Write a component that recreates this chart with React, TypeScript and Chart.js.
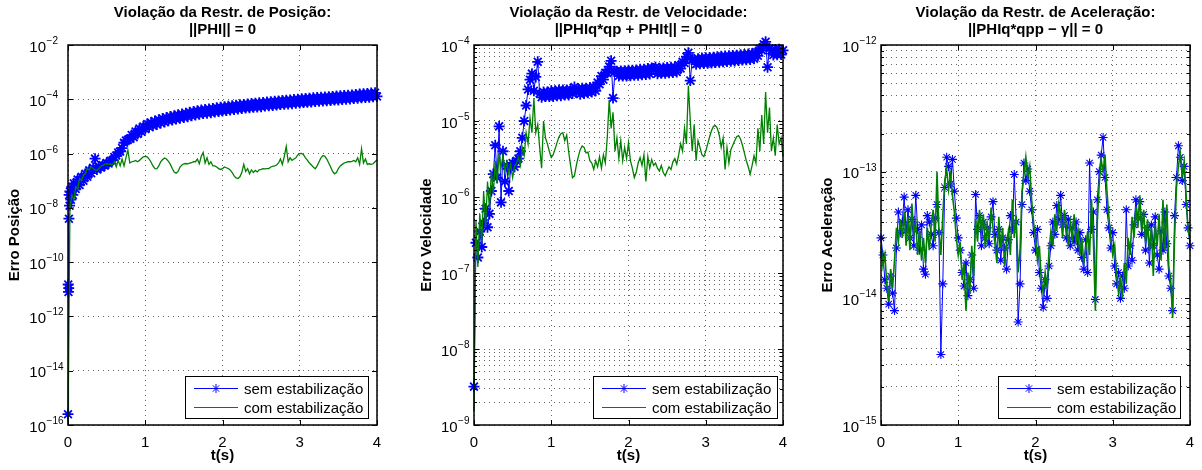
import React, { useEffect, useRef } from 'react';
import { Chart, registerables } from 'chart.js';

Chart.register(...registerables);

const FONT = '"Liberation Sans", Arial, Helvetica, sans-serif';

// ---------------- data ----------------
const tGrid = [
  0, 0.025, 0.05, 0.075, 0.1, 0.125, 0.15, 0.175, 0.2, 0.225, 0.25, 0.275, 0.3, 0.325, 0.35, 0.375, 0.4, 0.425, 0.45, 0.475,
  0.5, 0.525, 0.55, 0.575, 0.6, 0.625, 0.65, 0.675, 0.7, 0.725, 0.75, 0.775, 0.8, 0.825, 0.85, 0.875, 0.9, 0.925, 0.95, 0.975,
  1, 1.025, 1.05, 1.075, 1.1, 1.125, 1.15, 1.175, 1.2, 1.225, 1.25, 1.275, 1.3, 1.325, 1.35, 1.375, 1.4, 1.425, 1.45, 1.475,
  1.5, 1.525, 1.55, 1.575, 1.6, 1.625, 1.65, 1.675, 1.7, 1.725, 1.75, 1.775, 1.8, 1.825, 1.85, 1.875, 1.9, 1.925, 1.95, 1.975,
  2, 2.025, 2.05, 2.075, 2.1, 2.125, 2.15, 2.175, 2.2, 2.225, 2.25, 2.275, 2.3, 2.325, 2.35, 2.375, 2.4, 2.425, 2.45, 2.475,
  2.5, 2.525, 2.55, 2.575, 2.6, 2.625, 2.65, 2.675, 2.7, 2.725, 2.75, 2.775, 2.8, 2.825, 2.85, 2.875, 2.9, 2.925, 2.95, 2.975,
  3, 3.025, 3.05, 3.075, 3.1, 3.125, 3.15, 3.175, 3.2, 3.225, 3.25, 3.275, 3.3, 3.325, 3.35, 3.375, 3.4, 3.425, 3.45, 3.475,
  3.5, 3.525, 3.55, 3.575, 3.6, 3.625, 3.65, 3.675, 3.7, 3.725, 3.75, 3.775, 3.8, 3.825, 3.85, 3.875, 3.9, 3.925, 3.95, 3.975,
  4,
];

const posTimeSem = [
  0, 0.003, 0.006, 0.009, 0.012, 0.015, 0.02, 0.025, 0.0375,
  0.05, 0.0625, 0.075,
  0.1, 0.125, 0.15, 0.175, 0.2, 0.225, 0.25, 0.275, 0.3, 0.325, 0.35, 0.375, 0.4, 0.425, 0.45, 0.475,
  0.5, 0.525, 0.55, 0.575, 0.6, 0.625, 0.65, 0.675, 0.7, 0.725, 0.75, 0.775, 0.8,
  0.825, 0.85, 0.875, 0.9, 0.925, 0.95, 0.975,
  1, 1.025, 1.05, 1.075, 1.1, 1.125, 1.15, 1.175, 1.2, 1.225, 1.25, 1.275, 1.3, 1.325, 1.35, 1.375, 1.4, 1.425, 1.45, 1.475,
  1.5, 1.525, 1.55, 1.575, 1.6, 1.625, 1.65, 1.675, 1.7, 1.725, 1.75, 1.775, 1.8, 1.825, 1.85, 1.875, 1.9, 1.925, 1.95, 1.975,
  2, 2.025, 2.05, 2.075, 2.1, 2.125, 2.15, 2.175, 2.2, 2.225, 2.25, 2.275, 2.3, 2.325, 2.35, 2.375, 2.4, 2.425, 2.45, 2.475,
  2.5, 2.525, 2.55, 2.575, 2.6, 2.625, 2.65, 2.675, 2.7, 2.725, 2.75, 2.775, 2.8, 2.825, 2.85, 2.875, 2.9, 2.925, 2.95, 2.975,
  3, 3.025, 3.05, 3.075, 3.1, 3.125, 3.15, 3.175, 3.2, 3.225, 3.25, 3.275, 3.3, 3.325, 3.35, 3.375, 3.4, 3.425, 3.45, 3.475,
  3.5, 3.525, 3.55, 3.575, 3.6, 3.625, 3.65, 3.675, 3.7, 3.725, 3.75, 3.775, 3.8, 3.825, 3.85, 3.875, 3.9, 3.925, 3.95, 3.975,
  4,
];
const posErrSem = [
  2.5e-16, 1.5e-11, 8e-12, 1.1e-11, 4e-9, 3e-8, 1.2e-8, 4e-8, 2e-8,
  6e-8, 3e-8, 8e-8,
  5e-8, 1.1e-7, 7e-8, 1.4e-7, 1e-7, 1.8e-7, 1.4e-7, 2.4e-7, 1.9e-7, 3e-7, 6.5e-7, 2.6e-7, 3.3e-7, 3e-7, 3.8e-7, 3.6e-7,
  4.5e-7, 4.3e-7, 5.4e-7, 5.6e-7, 7.5e-7, 8.5e-7, 1.1e-6, 1.2e-6, 1.6e-6, 2.5e-6, 3e-6, 3.2e-6, 3.5e-6,
  4.8e-6, 4e-6, 6.5e-6, 5.3e-6, 8.3e-6, 6.4e-6, 1e-5,
  8e-6, 1.23e-5, 9.5e-6, 1.4e-5, 1.07e-5, 1.57e-5, 1.19e-5, 1.76e-5, 1.34e-5, 1.96e-5, 1.47e-5, 2.15e-5, 1.61e-5, 2.32e-5, 1.73e-5, 2.5e-5, 1.86e-5, 2.68e-5, 1.99e-5, 2.86e-5,
  2.12e-5, 3.07e-5, 2.29e-5, 3.3e-5, 2.46e-5, 3.54e-5, 2.63e-5, 3.78e-5, 2.8e-5, 4e-5, 2.97e-5, 4.2e-5, 3.05e-5, 4.37e-5, 3.22e-5, 4.6e-5, 3.39e-5, 4.84e-5, 3.56e-5, 5.07e-5,
  3.73e-5, 5.31e-5, 3.9e-5, 5.55e-5, 4.07e-5, 5.78e-5, 4.24e-5, 6.02e-5, 4.41e-5, 6.25e-5, 4.58e-5, 6.49e-5, 4.75e-5, 6.73e-5, 4.92e-5, 6.96e-5, 5.08e-5, 7.2e-5, 5.25e-5, 7.38e-5,
  5.34e-5, 7.6e-5, 5.6e-5, 7.9e-5, 5.76e-5, 8.1e-5, 5.93e-5, 8.4e-5, 6.1e-5, 8.7e-5, 6.36e-5, 8.97e-5, 6.53e-5, 9.2e-5, 6.7e-5, 9.44e-5, 6.86e-5, 9.8e-5, 7.2e-5, 1.01e-4,
  7.37e-5, 1.04e-4, 7.54e-5, 1.06e-4, 7.71e-5, 1.09e-4, 7.97e-5, 1.13e-4, 8.22e-5, 1.16e-4, 8.47e-5, 1.19e-4, 8.64e-5, 1.22e-4, 8.9e-5, 1.25e-4, 9.07e-5, 1.28e-4, 9.32e-5, 1.31e-4,
  9.5e-5, 1.34e-4, 9.75e-5, 1.37e-4, 1e-4, 1.41e-4, 1.03e-4, 1.45e-4, 1.06e-4, 1.5e-4, 1.09e-4, 1.55e-4, 1.13e-4, 1.59e-4, 1.16e-4, 1.64e-4, 1.19e-4, 1.69e-4, 1.23e-4, 1.73e-4,
  1.27e-4,
];
const posErrCom = [
  1e-16, 1e-8, 3e-8, 2e-8, 6e-8, 5e-8, 1.2e-7, 1e-7, 1.6e-7, 1.8e-7,
  2.8e-7, 2.5e-7, 3.2e-7, 2.8e-7, 2.5e-7, 2.4e-7, 2.8e-7, 3.3e-7, 3.7e-7, 4e-7,
  4.2e-7, 4e-7, 4.2e-7, 3.8e-7, 5e-7, 3.2e-7, 5.6e-7, 3.5e-7, 6.3e-7, 3.5e-7,
  7e-7, 1.35e-6, 4.5e-7, 5e-7, 5.2e-7, 5.6e-7, 5e-7, 5.6e-7, 6.6e-7, 7.6e-7,
  7.9e-7, 7.6e-7, 6.3e-7, 4.8e-7, 3.5e-7, 2.8e-7, 2.75e-7, 3.5e-7, 5e-7, 6e-7,
  6.8e-7, 6.3e-7, 5.2e-7, 4e-7, 2.8e-7, 2.1e-7, 1.9e-7, 2.2e-7, 3.2e-7, 3.8e-7,
  4.2e-7, 4.3e-7, 4.2e-7, 4.4e-7, 4.6e-7, 5e-7, 5e-7, 6.3e-7, 4.2e-7, 7.9e-7,
  1.1e-6, 4.5e-7, 7e-7, 4e-7, 5e-7, 3.5e-7, 3.5e-7, 3.2e-7, 2.8e-7, 2.6e-7,
  2.8e-7, 3.2e-7, 3e-7, 2.8e-7, 2.5e-7, 2e-7, 1.5e-7, 1.26e-7, 1.2e-7, 1.4e-7,
  2e-7, 4e-7, 2.2e-7, 2.8e-7, 1.8e-7, 2.5e-7, 2e-7, 2.4e-7, 2.1e-7, 2.5e-7,
  2.6e-7, 2.8e-7, 2.75e-7, 2.8e-7, 2.8e-7, 3.2e-7, 3.4e-7, 3.5e-7, 3.8e-7, 4.5e-7,
  6.3e-7, 4e-7, 7.9e-7, 1.8e-6, 5e-7, 7e-7, 5.6e-7, 6.3e-7, 7e-7, 8.9e-7,
  1e-6, 1.02e-6, 8.9e-7, 7e-7, 5.6e-7, 4.5e-7, 3.8e-7, 3.2e-7, 2.75e-7, 3.5e-7,
  5e-7, 7e-7, 8.5e-7, 7.9e-7, 6.3e-7, 4.5e-7, 3.2e-7, 2.2e-7, 1.8e-7, 2e-7,
  2.8e-7, 3.5e-7, 4e-7, 4.5e-7, 4.7e-7, 5e-7, 5e-7, 5.2e-7, 5.6e-7, 5e-7,
  7e-7, 4e-7, 1.5e-6, 4.5e-7, 6.3e-7, 4e-7, 4.2e-7, 4e-7, 4.2e-7, 5e-7,
  5.9e-7,
];

const velErrSem = [
  3.2e-9, 2.5e-7, 1.6e-7, 3.5e-7, 2.2e-7, 4.5e-7, 7e-7, 4e-7, 6e-7, 1.2e-6,
  2e-6, 4.8e-6, 1.8e-6, 8.5e-6, 8.5e-7, 4e-6, 1.6e-6, 2.6e-6, 1.2e-6, 2.4e-6,
  2.8e-6, 2.5e-6, 3e-6, 3.2e-6, 4e-6, 6e-6, 1e-5, 1.6e-5, 2.6e-5, 3.5e-5,
  4.2e-5, 2.5e-5, 3.8e-5, 6e-5, 2.3e-5, 2.05e-5, 2.4e-5, 2.1e-5, 2.4e-5, 2.1e-5,
  2.5e-5, 2.1e-5, 2.5e-5, 2.15e-5, 2.55e-5, 2.15e-5, 2.55e-5, 2.2e-5, 2.55e-5, 2.2e-5,
  2.6e-5, 2.3e-5, 2.8e-5, 2.4e-5, 2.65e-5, 2.25e-5, 2.7e-5, 2.3e-5, 2.7e-5, 2.35e-5,
  2.75e-5, 2.4e-5, 2.8e-5, 2.5e-5, 3.2e-5, 3.05e-5, 3.9e-5, 3.5e-5, 4.3e-5, 4.3e-5,
  5.2e-5, 6.2e-5, 2e-5, 4.5e-5, 4.5e-5, 3.9e-5, 4.55e-5, 3.9e-5, 4.6e-5, 3.9e-5,
  4.65e-5, 3.95e-5, 4.65e-5, 4e-5, 4.7e-5, 4e-5, 4.8e-5, 4.05e-5, 4.8e-5, 4.1e-5,
  4.9e-5, 4.15e-5, 5e-5, 4.9e-5, 5.1e-5, 4.2e-5, 4.95e-5, 4.25e-5, 5e-5, 4.25e-5,
  5.05e-5, 4.3e-5, 5.1e-5, 4.35e-5, 5.15e-5, 4.4e-5, 5.4e-5, 4.9e-5, 6e-5, 5.8e-5,
  7e-5, 7.9e-5, 3.4e-5, 6.5e-5, 6.5e-5, 5.6e-5, 6.6e-5, 5.65e-5, 6.75e-5, 5.7e-5,
  6.8e-5, 5.75e-5, 6.85e-5, 5.8e-5, 6.9e-5, 5.9e-5, 7e-5, 5.95e-5, 7.1e-5, 6e-5,
  7.15e-5, 6.05e-5, 7.2e-5, 6.1e-5, 7.3e-5, 6.15e-5, 7.35e-5, 6.25e-5, 7.45e-5, 6.35e-5,
  7.5e-5, 6.4e-5, 7.6e-5, 6.45e-5, 7.7e-5, 6.6e-5, 8.1e-5, 7.2e-5, 9e-5, 8.5e-5,
  1.02e-4, 1.1e-4, 5.1e-5, 9e-5, 8.5e-5, 7.4e-5, 8.7e-5, 7.45e-5, 8.8e-5, 7.5e-5,
  8.5e-5,
];
const velErrCom = [
  1.5e-9, 5e-7, 1.2e-7, 6e-7, 2.5e-7, 1.2e-6, 4e-7, 1.6e-6, 7e-7, 2.2e-6,
  1.1e-6, 3e-6, 1.5e-6, 3.8e-6, 2.4e-6, 3.6e-6, 2.2e-6, 2.9e-6, 2e-6, 2.7e-6,
  1.8e-6, 2.5e-6, 2.8e-6, 3.3e-6, 2.6e-6, 4.5e-6, 3.5e-6, 7e-6, 5e-6, 1.1e-5,
  7e-6, 2e-5, 7e-6, 9e-6, 4.5e-6, 2.4e-6, 1e-5, 6e-6, 5e-6, 4e-6,
  3.3e-6, 3.6e-6, 4.3e-6, 5.2e-6, 6.2e-6, 6.8e-6, 7e-6, 5.5e-6, 6.5e-6, 4e-6,
  2.6e-6, 1.8e-6, 1.9e-6, 2.6e-6, 3.4e-6, 4.2e-6, 4.7e-6, 4.5e-6, 3.8e-6, 3.9e-6,
  3e-6, 2.8e-6, 2.3e-6, 3e-6, 2.5e-6, 3.4e-6, 2.4e-6, 3.6e-6, 2.8e-6, 6e-6,
  1.9e-5, 8e-6, 1.3e-5, 4e-6, 6e-6, 3.2e-6, 5.5e-6, 3e-6, 4.5e-6, 3.2e-6,
  5.2e-6, 3e-6, 2.4e-6, 1.8e-6, 2.1e-6, 2.8e-6, 3.3e-6, 2.6e-6, 3.6e-6, 1.6e-6,
  3.4e-6, 2.4e-6, 3.1e-6, 2.6e-6, 2.8e-6, 2.4e-6, 2.2e-6, 2.6e-6, 2.1e-6, 1.9e-6,
  2.2e-6, 2.5e-6, 2.3e-6, 2.9e-6, 3.2e-6, 2.7e-6, 3.6e-6, 5e-6, 4e-6, 8e-6,
  5e-6, 2.9e-5, 1e-5, 4e-6, 9e-6, 3e-6, 5.5e-6, 4.5e-6, 3.6e-6, 3.4e-6,
  4e-6, 5e-6, 6.2e-6, 7.5e-6, 8.5e-6, 8.7e-6, 8e-6, 6.5e-6, 4.5e-6, 6e-6,
  2.3e-6, 4.5e-6, 2.8e-6, 4.2e-6, 4.8e-6, 5.5e-6, 6.2e-6, 6.4e-6, 5.8e-6, 4.8e-6,
  3.8e-6, 3e-6, 2.5e-6, 2e-6, 2.6e-6, 3.5e-6, 2.8e-6, 8e-6, 4e-6, 1.2e-5,
  5e-6, 2.4e-5, 7e-6, 1.5e-5, 4e-6, 6e-6, 3.5e-6, 9e-6, 5e-6, 6e-6,
  3.4e-6,
];

const accErrSem = [
  3e-14, 2.2e-14, 1.4e-14, 1.2e-14, 9e-15, 1.5e-14, 1.1e-14, 8e-15, 2.5e-14, 4.8e-14,
  3.3e-14, 4e-14, 6.3e-14, 3.4e-14, 5e-14, 3e-14, 4.2e-14, 2.6e-14, 6.5e-14, 3.5e-14,
  2.4e-14, 3.8e-14, 1.7e-14, 1.55e-14, 4.5e-14, 4e-14, 3.2e-14, 2.6e-14, 4.3e-14, 5.5e-14,
  3.3e-14, 3.6e-15, 1.3e-14, 7.5e-14, 1.3e-13, 1.1e-13, 8e-14, 1.25e-13, 7e-14, 4.3e-14,
  3e-14, 2.4e-14, 1.6e-14, 1.25e-14, 1.9e-14, 1.05e-14, 1.4e-14, 2.2e-14, 1.2e-14, 6.6e-14,
  3.5e-14, 4.5e-14, 2.6e-14, 4e-14, 3e-14, 3.6e-14, 2.7e-14, 4.4e-14, 5.8e-14, 3.2e-14,
  2.4e-14, 3.5e-14, 2e-14, 3e-14, 2.5e-14, 1.7e-14, 2.9e-14, 4.5e-14, 3.5e-14, 9.5e-14,
  4e-14, 6.5e-15, 1.3e-14, 5.5e-14, 1.17e-13, 8.5e-14, 1.05e-13, 7e-14, 5e-14, 3.3e-14,
  2.4e-14, 3.5e-14, 1.6e-14, 1.2e-14, 8.5e-15, 1.4e-14, 1e-14, 1.8e-14, 2.6e-14, 4e-14,
  3.2e-14, 5.4e-14, 4.2e-14, 6.5e-14, 3.8e-14, 4.5e-14, 3e-14, 4.2e-14, 2.6e-14, 3.6e-14,
  2.8e-14, 4e-14, 2.4e-14, 3.3e-14, 2.1e-14, 1.7e-14, 2.9e-14, 1.6e-14, 1.17e-13, 3.5e-14,
  4.8e-14, 9.8e-15, 6e-14, 1e-13, 1.35e-13, 1.86e-13, 9e-14, 5e-14, 3.6e-14, 2.5e-14,
  3.3e-14, 1.8e-14, 1.3e-14, 1.6e-14, 1e-14, 1.5e-14, 1.2e-14, 5e-14, 1.8e-14, 2.6e-14,
  2e-14, 3.8e-14, 6e-14, 4.3e-14, 5.8e-14, 3.2e-14, 4.6e-14, 2.4e-14, 3.6e-14, 1.9e-14,
  3.8e-14, 2.6e-14, 4.4e-14, 2.2e-14, 1.7e-14, 3.4e-14, 2.4e-14, 4.8e-14, 2.7e-14, 1.5e-14,
  1.2e-14, 8e-15, 4.5e-14, 9e-14, 1.6e-13, 1.3e-13, 8.5e-14, 1.1e-13, 5.5e-14, 3.6e-14,
  2.6e-14,
];
const accErrCom = [
  2.6e-14, 1.8e-14, 2.2e-14, 1.3e-14, 9.5e-15, 1.7e-14, 1.2e-14, 2e-14, 3.6e-14, 2.8e-14,
  4.2e-14, 3e-14, 4.8e-14, 2.6e-14, 4.4e-14, 2.4e-14, 5.6e-14, 3.2e-14, 4e-14, 2.2e-14,
  3.4e-14, 2e-14, 3e-14, 1.9e-14, 3.6e-14, 2.4e-14, 3.8e-14, 5e-14, 2.8e-14, 1e-13,
  3.5e-14, 2.2e-14, 4.5e-14, 8.5e-14, 1.05e-13, 7.2e-14, 9.5e-14, 6.5e-14, 4.8e-14, 3e-14,
  2.2e-14, 2.8e-14, 1.4e-14, 1.9e-14, 8e-15, 1.6e-14, 1.1e-14, 2.6e-14, 1.5e-14, 4.2e-14,
  2.8e-14, 5e-14, 3.4e-14, 4.6e-14, 2.5e-14, 3.8e-14, 2.9e-14, 5.2e-14, 3.6e-14, 2.7e-14,
  1.9e-14, 4.4e-14, 2.5e-14, 3.6e-14, 1.8e-14, 2.8e-14, 3.4e-14, 2.2e-14, 6e-14, 3e-14,
  4.5e-14, 1.6e-14, 2.4e-14, 7e-14, 9.5e-14, 1.3e-13, 9e-14, 1.1e-13, 6e-14, 4e-14,
  3e-14, 2e-14, 2.6e-14, 1.4e-14, 1.1e-14, 1.6e-14, 1.2e-14, 2.4e-14, 3.4e-14, 2.6e-14,
  4.6e-14, 3.4e-14, 5.6e-14, 4.8e-14, 3e-14, 5e-14, 3.6e-14, 2.6e-14, 4e-14, 3e-14,
  4.6e-14, 2.8e-14, 3.5e-14, 2.2e-14, 3e-14, 1.9e-14, 2.4e-14, 3.4e-14, 2.2e-14, 6e-14,
  2.8e-14, 8e-15, 4e-14, 8e-14, 1.25e-13, 1e-13, 1.35e-13, 7e-14, 4.4e-14, 3e-14,
  2.2e-14, 2.6e-14, 1.5e-14, 1.1e-14, 1.4e-14, 1e-14, 1.9e-14, 1.3e-14, 3e-14, 2.2e-14,
  4.4e-14, 3e-14, 5.2e-14, 3.6e-14, 6.5e-14, 3.4e-14, 5e-14, 2.8e-14, 4.2e-14, 2.4e-14,
  3.6e-14, 1.5e-14, 3.8e-14, 2.6e-14, 4.6e-14, 2e-14, 6e-14, 2.4e-14, 5.5e-14, 1.8e-14,
  1.4e-14, 7e-15, 3e-14, 7.5e-14, 1.1e-13, 1.4e-13, 9.5e-14, 1.2e-13, 6.5e-14, 3.4e-14,
  3e-14,
];

// ---------------- axes / labels ----------------
const xTickValues = [0, 1, 2, 3, 4];
const xTickLabels = ['0', '1', '2', '3', '4'];
const xTitle = 't(s)';
const posDecades = [-16, -14, -12, -10, -8, -6, -4, -2];
const velDecades = [-9, -8, -7, -6, -5, -4];
const accDecades = [-15, -14, -13, -12];
const minorMultipliers = [2, 3, 4, 5, 6, 7, 8, 9];
const seriesLabels = ['sem estabilização', 'com estabilização'];
const seriesColors = ['#0000ff', '#008000'];
const posTitle = ['Violação da Restr. de Posição:', '||PHI|| = 0'];
const velTitle = ['Violação da Restr. de Velocidade:', '||PHIq*qp + PHIt|| = 0'];
const accTitle = ['Violação da Restr. de Aceleração:', '||PHIq*qpp \u2212 \u03b3|| = 0'];
const yTitles = ['Erro Posição', 'Erro Velocidade', 'Erro Aceleração'];

function minorTicks(decades: number[]) {
  const out: number[] = [];
  for (let i = 0; i < decades.length - 1; i++) {
    for (const m of minorMultipliers) out.push(m * Math.pow(10, decades[i]));
  }
  return out;
}

type PanelSpec = {
  left: number;
  width: number;
  pad: { left: number; right: number; top: number; bottom: number };
  legendBox: { x: number; y: number; w: number; h: number };
  title: string[];
  yTitle: string;
  decades: number[];
  minor: number[];
  semT: number[];
  semV: number[];
  comT: number[];
  comV: number[];
  markerR: number;
  markerW: number;
  comW: number;
};

const panels: PanelSpec[] = [
  {
    left: 0, width: 400,
    pad: { left: 68, right: 23, top: 45, bottom: 45 },
    legendBox: { x: 185, y: 376, w: 183, h: 42 },
    title: posTitle, yTitle: yTitles[0], decades: posDecades, minor: [],
    semT: posTimeSem, semV: posErrSem, comT: tGrid, comV: posErrCom,
    markerR: 5.5, markerW: 1.8, comW: 1.3,
  },
  {
    left: 400, width: 400,
    pad: { left: 74, right: 17, top: 45, bottom: 45 },
    legendBox: { x: 193, y: 376, w: 184, h: 42 },
    title: velTitle, yTitle: yTitles[1], decades: velDecades, minor: minorTicks(velDecades),
    semT: tGrid, semV: velErrSem, comT: tGrid, comV: velErrCom,
    markerR: 5.5, markerW: 1.8, comW: 1.3,
  },
  {
    left: 800, width: 402,
    pad: { left: 81, right: 12, top: 45, bottom: 45 },
    legendBox: { x: 198, y: 376, w: 182, h: 42 },
    title: accTitle, yTitle: yTitles[2], decades: accDecades, minor: minorTicks(accDecades),
    semT: tGrid, semV: accErrSem, comT: tGrid, comV: accErrCom,
    markerR: 4.5, markerW: 1.1, comW: 1.6,
  },
];

function drawAsterisk(ctx: CanvasRenderingContext2D, x: number, y: number, r: number) {
  const d = r * Math.SQRT1_2;
  ctx.moveTo(x - r, y); ctx.lineTo(x + r, y);
  ctx.moveTo(x, y - r); ctx.lineTo(x, y + r);
  ctx.moveTo(x - d, y - d); ctx.lineTo(x + d, y + d);
  ctx.moveTo(x - d, y + d); ctx.lineTo(x + d, y - d);
}

function makePlugin(p: PanelSpec) {
  return {
    id: 'matlabAxes',
    afterDatasetsDraw(chart: any) {
      const { ctx, chartArea: a, scales } = chart;
      const xs = scales.x, ys = scales.y;
      ctx.save();
      ctx.strokeStyle = '#000';
      ctx.lineWidth = 1;
      ctx.setLineDash([]);
      ctx.beginPath();
      for (const v of xTickValues) {
        const x = Math.round(xs.getPixelForValue(v)) + 0.5;
        ctx.moveTo(x, a.bottom); ctx.lineTo(x, a.bottom - 5);
        ctx.moveTo(x, a.top); ctx.lineTo(x, a.top + 5);
      }
      for (const d of p.decades) {
        const y = Math.round(ys.getPixelForValue(Math.pow(10, d))) + 0.5;
        ctx.moveTo(a.left, y); ctx.lineTo(a.left + 5, y);
        ctx.moveTo(a.right, y); ctx.lineTo(a.right - 5, y);
      }
      for (const v of p.minor) {
        const y = Math.round(ys.getPixelForValue(v)) + 0.5;
        ctx.moveTo(a.left, y); ctx.lineTo(a.left + 3, y);
        ctx.moveTo(a.right, y); ctx.lineTo(a.right - 3, y);
      }
      ctx.stroke();
      ctx.lineWidth = 1.5;
      ctx.strokeRect(a.left, a.top, a.right - a.left, a.bottom - a.top);
      ctx.restore();
    },
    afterDraw(chart: any) {
      const { ctx, chartArea: a, scales } = chart;
      const xs = scales.x, ys = scales.y;
      ctx.save();
      ctx.fillStyle = '#000';
      ctx.textBaseline = 'alphabetic';
      const cx = (a.left + a.right) / 2;

      // title
      ctx.textAlign = 'center';
      ctx.font = `bold 15px ${FONT}`;
      ctx.fillText(p.title[0], cx, 17);
      ctx.fillText(p.title[1], cx, 34);

      // x tick labels
      ctx.font = `15px ${FONT}`;
      xTickValues.forEach((v, i) => ctx.fillText(xTickLabels[i], xs.getPixelForValue(v), 447));

      // x title
      ctx.font = `bold 15px ${FONT}`;
      ctx.fillText(xTitle, cx, 460);

      // y tick labels 10^n
      ctx.textAlign = 'left';
      ctx.font = `15px ${FONT}`;
      const baseW = ctx.measureText('10').width;
      ctx.font = `10px ${FONT}`;
      const expStrs = p.decades.map((d) => (d < 0 ? '\u2212' : '') + Math.abs(d));
      const maxExpW = Math.max(...expStrs.map((s) => ctx.measureText(s).width));
      const x0 = a.left - 5 - baseW - maxExpW;
      p.decades.forEach((d, i) => {
        const y = ys.getPixelForValue(Math.pow(10, d));
        ctx.font = `15px ${FONT}`;
        ctx.fillText('10', x0, y + 6.5);
        ctx.font = `10px ${FONT}`;
        ctx.fillText(expStrs[i], x0 + baseW + 0.5, y - 1);
      });

      // y title
      ctx.save();
      ctx.translate(x0 - 10, (a.top + a.bottom) / 2);
      ctx.rotate(-Math.PI / 2);
      ctx.textAlign = 'center';
      ctx.font = `bold 15px ${FONT}`;
      ctx.fillText(p.yTitle, 0, 0);
      ctx.restore();

      // legend
      const b = p.legendBox;
      ctx.fillStyle = '#fff';
      ctx.fillRect(b.x, b.y, b.w, b.h);
      ctx.strokeStyle = '#000';
      ctx.lineWidth = 1;
      ctx.strokeRect(b.x + 0.5, b.y + 0.5, b.w, b.h);
      const rowsY = [b.y + 12, b.y + 31];
      for (let i = 0; i < 2; i++) {
        const ly = Math.round(rowsY[i]) + 0.5;
        ctx.strokeStyle = seriesColors[i];
        ctx.lineWidth = 1;
        ctx.beginPath();
        ctx.moveTo(b.x + 9, ly);
        ctx.lineTo(b.x + 53, ly);
        if (i === 0) drawAsterisk(ctx, b.x + 31, ly, 4.5);
        ctx.stroke();
        ctx.fillStyle = '#000';
        ctx.font = `15px ${FONT}`;
        ctx.textAlign = 'left';
        ctx.fillText(seriesLabels[i], b.x + 59, rowsY[i] + 5.5);
      }
      ctx.restore();
    },
  };
}

function buildConfig(p: PanelSpec): any {
  const decadeVals = p.decades.map((d) => Math.pow(10, d));
  const gridVals = [...decadeVals, ...p.minor].sort((u, v) => u - v);
  return {
    type: 'line',
    data: {
      datasets: [
        {
          label: seriesLabels[0],
          data: p.semT.map((t, i) => ({ x: t, y: p.semV[i] })),
          borderColor: seriesColors[0],
          backgroundColor: seriesColors[0],
          borderWidth: 1,
          pointStyle: 'star',
          pointRadius: p.markerR,
          pointHoverRadius: p.markerR,
          pointBorderWidth: p.markerW,
          pointBorderColor: seriesColors[0],
          pointBackgroundColor: seriesColors[0],
          tension: 0,
          clip: false,
          order: 2,
        },
        {
          label: seriesLabels[1],
          data: p.comT.map((t, i) => ({ x: t, y: p.comV[i] })),
          borderColor: seriesColors[1],
          backgroundColor: seriesColors[1],
          borderWidth: p.comW,
          pointRadius: 0,
          pointHoverRadius: 0,
          tension: 0,
          clip: false,
          order: 1,
        },
      ],
    },
    options: {
      animation: false,
      responsive: false,
      events: [],
      layout: { padding: p.pad, autoPadding: false },
      plugins: {
        legend: { display: false },
        tooltip: { enabled: false },
        title: { display: false },
      },
      scales: {
        x: {
          type: 'linear',
          min: 0,
          max: 4,
          afterBuildTicks: (s: any) => { s.ticks = xTickValues.map((v) => ({ value: v })); },
          afterFit: (s: any) => { s.height = 0; },
          ticks: { display: false },
          grid: { color: 'rgba(0,0,0,0.6)', lineWidth: 1, drawTicks: false, tickLength: 0 },
          border: { display: false, dash: [1, 4] },
        },
        y: {
          type: 'logarithmic',
          min: decadeVals[0],
          max: decadeVals[decadeVals.length - 1],
          afterBuildTicks: (s: any) => { s.ticks = gridVals.map((v) => ({ value: v })); },
          afterFit: (s: any) => { s.width = 0; },
          ticks: { display: false },
          grid: { color: 'rgba(0,0,0,0.6)', lineWidth: 1, drawTicks: false, tickLength: 0 },
          border: { display: false, dash: [1, 4] },
        },
      },
    },
    plugins: [makePlugin(p)],
  };
}

function Panel({ spec }: { spec: PanelSpec }) {
  const ref = useRef<HTMLCanvasElement>(null);
  useEffect(() => {
    const chart = new Chart(ref.current as HTMLCanvasElement, buildConfig(spec));
    return () => chart.destroy();
  }, [spec]);
  return (
    <canvas
      ref={ref}
      width={spec.width}
      height={470}
      style={{ position: 'absolute', left: spec.left, top: 0, width: spec.width, height: 470 }}
    />
  );
}

export default function App() {
  return (
    <div style={{ position: 'absolute', left: 0, top: 0, width: 1202, height: 470, background: '#fff', overflow: 'hidden' }}>
      {panels.map((p, i) => (
        <Panel key={i} spec={p} />
      ))}
    </div>
  );
}
